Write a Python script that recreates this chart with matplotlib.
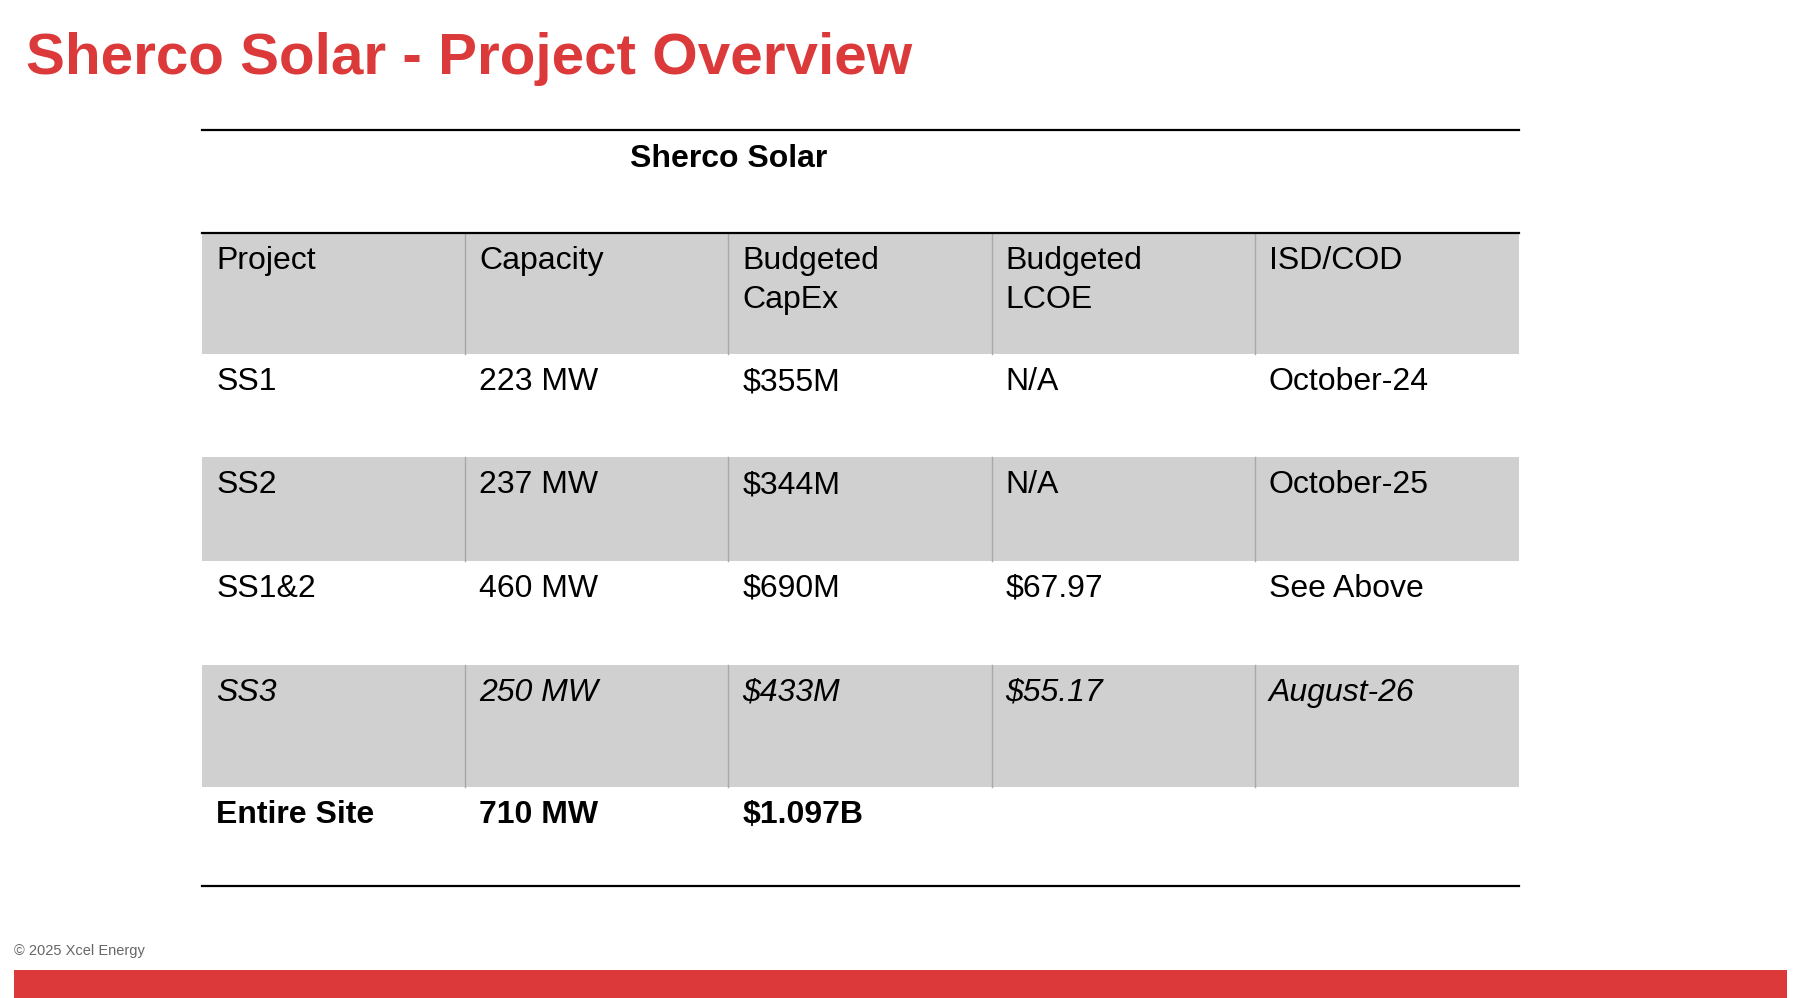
import matplotlib.pyplot as plt
from matplotlib.patches import Rectangle

plt.rcParams["font.family"] = "Liberation Sans"

RED = "#DC3A3A"
GRAY = "#D0D0D0"

title = "Sherco Solar - Project Overview"
table_title = "Sherco Solar"
columns = ["Project", "Capacity", "Budgeted\nCapEx", "Budgeted\nLCOE", "ISD/COD"]
rows = [
    ["SS1", "223 MW", "$355M", "N/A", "October-24"],
    ["SS2", "237 MW", "$344M", "N/A", "October-25"],
    ["SS1&2", "460 MW", "$690M", "$67.97", "See Above"],
    ["SS3", "250 MW", "$433M", "$55.17", "August-26"],
    ["Entire Site", "710 MW", "$1.097B", "", ""],
]
row_style = ["normal", "normal", "normal", "italic", "bold"]
footer = "\u00a9 2025 Xcel Energy"

# layout in reference pixel units (1548 x 845)
W, H = 1548, 845
col_x = [173, 398, 623, 848, 1073, 1299]
row_y = [197, 300, 387, 475, 563, 666, 750]

fig = plt.figure(figsize=(18.10, 9.98), dpi=100)
ax = fig.add_axes([0, 0, 1, 1])
ax.set_xlim(0, W)
ax.set_ylim(H, 0)
ax.axis("off")

ax.text(22, 50, title, color=RED, fontsize=42, fontweight="bold", va="center")

ax.plot([col_x[0], col_x[-1]], [110, 110], color="black", lw=1.6)
ax.text(623, 135, table_title, fontsize=23, fontweight="bold", ha="center", va="center")

# gray bands: header, SS2, SS3
for i in [0, 2, 4]:
    y0, y1 = row_y[i], row_y[i + 1]
    ax.add_patch(Rectangle((col_x[0], y0), col_x[-1] - col_x[0], y1 - y0,
                           facecolor=GRAY, edgecolor="none"))
    for x in col_x[1:-1]:
        ax.plot([x, x], [y0, y1], color="#A8A8A8", lw=1.0)

ax.plot([col_x[0], col_x[-1]], [row_y[0], row_y[0]], color="black", lw=1.6)
ax.plot([col_x[0], col_x[-1]], [row_y[-1], row_y[-1]], color="black", lw=1.6)

for j, c in enumerate(columns):
    ax.text(col_x[j] + 12, row_y[0] + 11, c, fontsize=23, va="top", linespacing=1.4)

for i, r in enumerate(rows):
    st = row_style[i]
    for j, v in enumerate(r):
        ax.text(col_x[j] + 12, row_y[i + 1] + 11, v, fontsize=23, va="top",
                fontstyle="italic" if st == "italic" else "normal",
                fontweight="bold" if st == "bold" else "normal")

ax.text(12, 805, footer, fontsize=10.5, color="#666666", va="center")
ax.add_patch(Rectangle((12, 821), 1516, 24, facecolor=RED, edgecolor="none"))

fig.savefig("out.png", dpi=100)
